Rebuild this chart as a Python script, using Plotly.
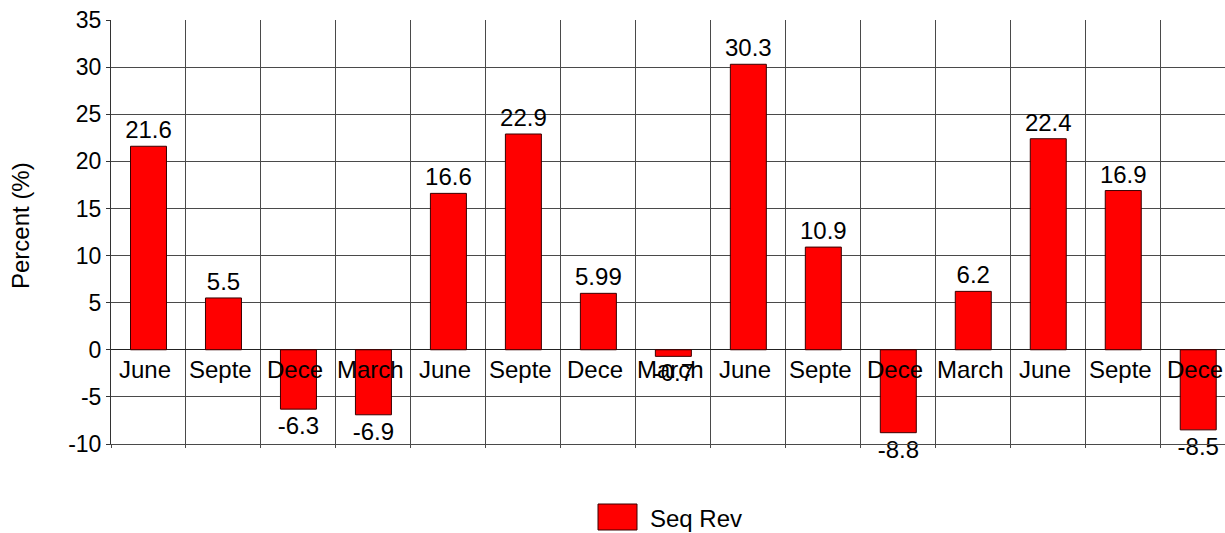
import plotly.graph_objects as go

# Quarterly sequential revenue change
quarters = ["June", "Septe", "Dece", "March", "June", "Septe", "Dece", "March",
            "June", "Septe", "Dece", "March", "June", "Septe", "Dece"]
seq_rev = [21.6, 5.5, -6.3, -6.9, 16.6, 22.9, 5.99, -0.7,
           30.3, 10.9, -8.8, 6.2, 22.4, 16.9, -8.5]
y_ticks = [-10, -5, 0, 5, 10, 15, 20, 25, 30, 35]
series_name = "Seq Rev"

FONT = "Liberation Sans, Arial, sans-serif"
FS = 24
W, H = 1225, 533
ML, MR, MT, MB = 111, 0, 20, 89

x_pos = list(range(len(quarters)))

fig = go.Figure()
fig.add_trace(go.Bar(
    x=x_pos,
    y=seq_rev,
    width=0.48,
    name=series_name,
    marker=dict(color="#ff0000", line=dict(color="#3a0000", width=1)),
    text=[str(v) for v in seq_rev],
    textposition="outside",
    constraintext="none",
    cliponaxis=False,
    textfont=dict(family=FONT, size=FS, color="black"),
    showlegend=False,
))

# Category labels sit just under the zero line, over the bars
for i, q in zip(x_pos, quarters):
    fig.add_annotation(
        x=i, y=0, xref="x", yref="y", text=q, showarrow=False,
        yanchor="top", xanchor="center", xshift=-3, yshift=-4,
        font=dict(family=FONT, size=FS, color="black"),
    )

# Axis title
plot_h = H - MT - MB
fig.add_annotation(
    x=0, y=(H - MB - 226) / plot_h, xref="paper", yref="paper",
    text="Percent (%)", textangle=-90, showarrow=False,
    xanchor="center", yanchor="middle", xshift=-(ML - 21),
    font=dict(family=FONT, size=FS, color="black"),
)

# Legend drawn as a swatch and label below the plot
plot_w = W - ML - MR
def px_x(p):
    return (p - ML) / plot_w

def px_y(p):
    return (H - MB - p) / plot_h

fig.add_shape(
    type="rect", xref="paper", yref="paper",
    x0=px_x(598), x1=px_x(637), y0=px_y(530), y1=px_y(504),
    fillcolor="#ff0000", line=dict(color="#3a0000", width=1),
)
fig.add_annotation(
    x=px_x(648), y=px_y(518), xref="paper", yref="paper",
    text=series_name, showarrow=False, xanchor="left", yanchor="middle",
    font=dict(family=FONT, size=FS, color="black"),
)

fig.update_layout(
    width=W, height=H,
    margin=dict(l=ML, r=MR, t=MT, b=MB),
    plot_bgcolor="white", paper_bgcolor="white",
    bargap=0.52,
    xaxis=dict(
        range=[-0.5, 14.357],
        tickmode="linear", tick0=0.5, dtick=1,
        showticklabels=False,
        showgrid=True, gridcolor="#4a4a4a", gridwidth=1,
        ticks="outside", ticklen=3, tickcolor="#4a4a4a",
        showline=True, linecolor="#4a4a4a", linewidth=1,
        zeroline=False,
    ),
    yaxis=dict(
        range=[-10, 35],
        tickmode="array", tickvals=y_ticks, ticktext=[str(t) for t in y_ticks],
        showgrid=True, gridcolor="#4a4a4a", gridwidth=1,
        ticks="outside", ticklen=4, tickcolor="#333333",
        showline=True, linecolor="#333333", linewidth=1,
        zeroline=True, zerolinecolor="#222222", zerolinewidth=1,
        tickfont=dict(family=FONT, size=23, color="black"),
    ),
)

fig.write_html("out.html")
